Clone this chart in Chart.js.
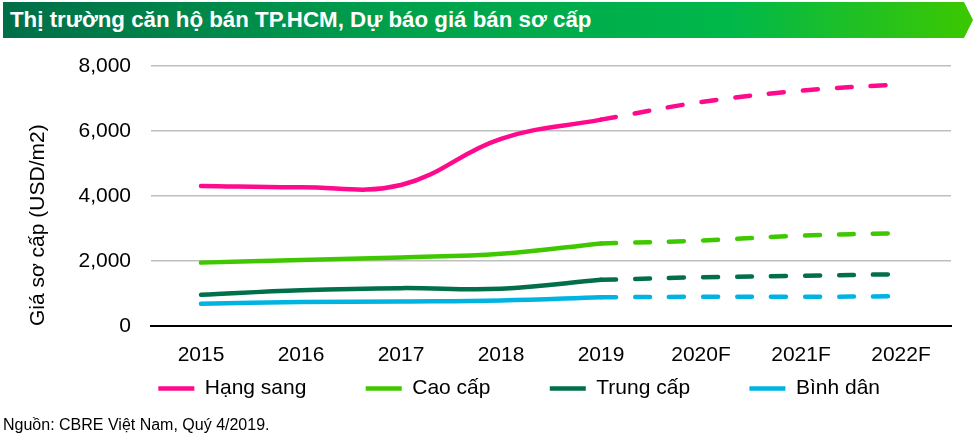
<!DOCTYPE html>
<html>
<head>
<meta charset="utf-8">
<script src="https://cdn.jsdelivr.net/npm/chart.js@4"></script>
<style>
  body { margin: 0; background: #fff; }
  #wrap { position: relative; width: 973px; height: 440px; font-family: "Liberation Sans", Arial, sans-serif; }
  #bar {
    position: absolute; left: 3px; top: 2px; width: 970px; height: 36px;
    background: linear-gradient(to right, #006e48 0%, #00a04c 40%, #00b84a 75%, #3cc800 100%);
    clip-path: polygon(0 0, 961px 0, 970px 18px, 961px 36px, 0 36px);
    color: #fff; font-weight: bold; font-size: 22.3px; line-height: 36px; padding-left: 7px; box-sizing: border-box;
  }
  #src { position: absolute; left: 3px; top: 416px; font-size: 16px; color: #000; }
  canvas { position: absolute; left: 0; top: 0; }
</style>
</head>
<body>
<div id="wrap">
  <canvas id="chart" width="973" height="440"></canvas>
  <div id="bar">Thị trường căn hộ bán TP.HCM, Dự báo giá bán sơ cấp</div>
  <div id="src">Nguồn: CBRE Việt Nam, Quý 4/2019.</div>
</div>
<script>
let labels = ['2015', '2016', '2017', '2018', '2019', '2020F', '2021F', '2022F']
let names = ['Hạng sang', 'Cao cấp', 'Trung cấp', 'Bình dân']
let colors = ['#ff0a8c', '#3fc800', '#006f4a', '#00b4e2']

// actual 2015-2019
let hang_sang = [4310, 4270, 4340, 5760, 6350, null, null, null]
let cao_cap = [1950, 2030, 2110, 2220, 2540, null, null, null]
let trung_cap = [960, 1100, 1165, 1145, 1420, null, null, null]
let binh_dan = [685, 735, 755, 785, 885, null, null, null]

// forecast 2019-2022F
let hang_sang_f = [null, null, null, null, 6350, 6890, 7240, 7440]
let cao_cap_f = [null, null, null, null, 2540, 2630, 2780, 2860]
let trung_cap_f = [null, null, null, null, 1420, 1500, 1545, 1595]
let binh_dan_f = [null, null, null, null, 885, 898, 898, 917]

let actual = [hang_sang, cao_cap, trung_cap, binh_dan]
let forecast = [hang_sang_f, cao_cap_f, trung_cap_f, binh_dan_f]
let font = "'Liberation Sans', Arial, sans-serif"
let nb = n => '\u00a0'.repeat(n)

let datasets = []
for (let i = 0; i < 4; i++) {
    datasets.push({
        label: names[i],
        data: actual[i],
        borderColor: colors[i],
        backgroundColor: colors[i],
        borderWidth: 4.5,
        borderCapStyle: 'round',
        tension: 0.4,
        pointRadius: 0,
    })
}
for (let i = 0; i < 4; i++) {
    datasets.push({
        label: names[i] + ' F',
        data: forecast[i],
        borderColor: colors[i],
        backgroundColor: colors[i],
        borderWidth: 4.5,
        borderCapStyle: 'round',
        borderDash: [15, 19],
        tension: 0.4,
        pointRadius: 0,
    })
}

new Chart(document.getElementById('chart'), {
    type: 'line',
    data: { labels: labels, datasets: datasets },
    options: {
        responsive: false,
        animation: false,
        layout: { padding: { top: 66, right: 22, left: 0, bottom: 31 } },
        plugins: {
            tooltip: { enabled: false },
            legend: {
                position: 'bottom',
                align: 'end',
                labels: {
                    usePointStyle: true,
                    pointStyle: 'line',
                    pointStyleWidth: 36,
                    padding: 1,
                    color: '#000',
                    font: { family: font, size: 21 },
                    generateLabels: chart => {
                        let items = Chart.defaults.plugins.legend.labels.generateLabels(chart).filter(item => item.datasetIndex < 4)
                        items.forEach((item, i) => {
                            item.text = item.text + (i < 3 ? nb(10) : nb(12))
                        })
                        return items
                    },
                }
            }
        },
        scales: {
            x: {
                offset: true,
                afterFit: s => { s.height = 51 },
                grid: { display: false, drawTicks: false },
                border: { display: true, color: '#000', width: 2 },
                ticks: { color: '#000', padding: 17, font: { family: font, size: 21 } },
            },
            y: {
                min: 0,
                max: 8000,
                afterFit: s => { s.width = 151 },
                grid: {
                    drawTicks: false,
                    color: c => c.tick.value === 0 ? '#000' : '#bfbfbf',
                    lineWidth: c => c.tick.value === 0 ? 2 : 1.5,
                },
                border: { display: false },
                ticks: { stepSize: 2000, color: '#000', padding: 20, font: { family: font, size: 21 } },
                title: {
                    display: true,
                    text: 'Giá sơ cấp (USD/m2)',
                    align: 'start',
                    color: '#000',
                    padding: { top: 26, bottom: 0 },
                    font: { family: font, size: 21 }
                },
            }
        }
    }
})
</script>
</body>
</html>
